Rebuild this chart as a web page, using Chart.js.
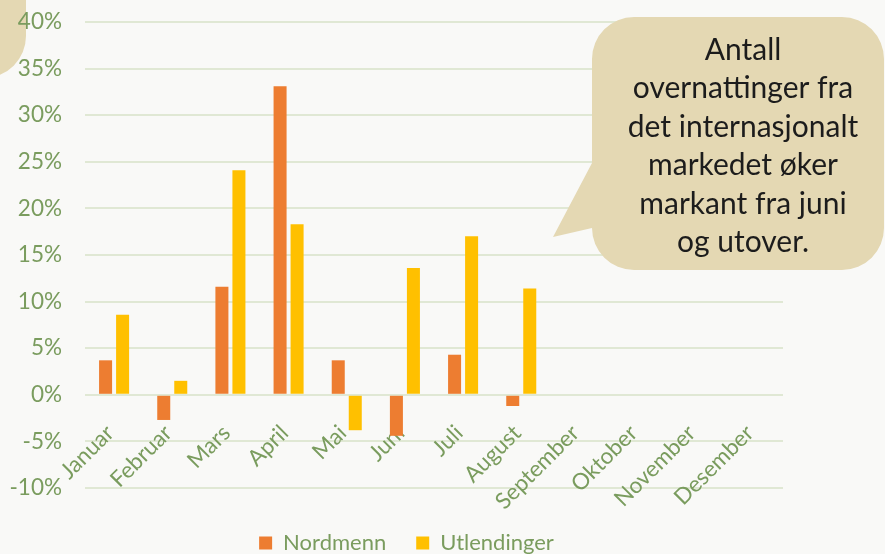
<!DOCTYPE html>
<html>
<head>
<meta charset="utf-8">
<script src="https://cdn.jsdelivr.net/npm/chart.js@4/dist/chart.umd.min.js"></script>
<style>
html, body { margin: 0; padding: 0; background: #f9f9f7; }
#wrap { width: 885px; height: 554px; }
</style>
</head>
<body>
<div id="wrap"><canvas id="chart" width="885" height="554"></canvas></div>
<script>
// chart data (percent change)
var months = ["Januar", "Februar", "Mars", "April", "Mai", "Juni", "Juli", "August",
	"September", "Oktober", "November", "Desember"];
var nordmenn = [3.7, -2.7, 11.6, 33.1, 3.7, -4.4, 4.3, -1.2, null, null, null, null];
var utlendinger = [8.6, 1.5, 24.1, 18.3, -3.8, 13.6, 17.0, 11.4, null, null, null, null];
var yRange = [-10, 40];
var yStep = 5;
var calloutLines = ["Antall", "overnattinger fra", "det internasjonalt", "markedet øker",
	"markant fra juni", "og utover."];

var green = "#7a9c5e";
var bubbleFill = "#e4d8b3";

Chart.defaults.font.family = "Lato, 'Open Sans', sans-serif";

function roundBox(ctx, x0, y0, x1, y1, r) {
	ctx.moveTo(x0 + r, y0);
	ctx.lineTo(x1 - r, y0); ctx.arcTo(x1, y0, x1, y0 + r, r);
	ctx.lineTo(x1, y1 - r); ctx.arcTo(x1, y1, x1 - r, y1, r);
	ctx.lineTo(x0 + r, y1); ctx.arcTo(x0, y1, x0, y1 - r, r);
	ctx.lineTo(x0, y0 + r); ctx.arcTo(x0, y0, x0 + r, y0, r);
}

// ============================================================
// background + cut-off bubble top left (under the tick labels)
// ============================================================
var bgPlugin = {
	id: "bg",
	beforeDraw: function (chart) {
		var ctx = chart.ctx;
		ctx.save();
		ctx.fillStyle = "#f9f9f7";
		ctx.fillRect(0, 0, chart.width, chart.height);
		ctx.fillStyle = bubbleFill;
		ctx.beginPath();
		roundBox(ctx, -200, -100, 26, 78, 42);
		ctx.fill();
		ctx.restore();
	}
};

// move legend down / right a bit, like the original
var legendShift = {
	id: "legendShift",
	afterLayout: function (chart) {
		var lg = chart.legend;
		if (!lg) return;
		lg.left += 15; lg.right += 15;
		lg.top += 14; lg.bottom += 14;
	}
};

// ============================================================
// speech bubble on the right
// ============================================================
var calloutPlugin = {
	id: "callout",
	afterDraw: function (chart) {
		var ctx = chart.ctx;
		ctx.save();
		ctx.fillStyle = bubbleFill;

		var x0 = 592, y0 = 17, x1 = 884, y1 = 270, r = 42;
		ctx.beginPath();
		ctx.moveTo(x0 + r, y0);
		ctx.lineTo(x1 - r, y0); ctx.arcTo(x1, y0, x1, y0 + r, r);
		ctx.lineTo(x1, y1 - r); ctx.arcTo(x1, y1, x1 - r, y1, r);
		ctx.lineTo(x0 + r, y1); ctx.arcTo(x0, y1, x0, y1 - r, r);
		ctx.lineTo(553, 237);
		ctx.lineTo(x0, 163);
		ctx.lineTo(x0, y0 + r); ctx.arcTo(x0, y0, x0 + r, y0, r);
		ctx.closePath();
		ctx.fill();

		ctx.fillStyle = "#1c1c1c";
		ctx.font = "30px Lato, sans-serif";
		ctx.textAlign = "center";
		ctx.textBaseline = "alphabetic";
		for (var i = 0; i < calloutLines.length; i++) {
			ctx.fillText(calloutLines[i], 743, 60 + i * 38.4);
		}
		ctx.restore();
	}
};

// ============================================================
// chart
// ============================================================
var myBar = new Chart(document.getElementById("chart"), {
	type: "bar",
	data: {
		labels: months,
		datasets: [{
			label: "Nordmenn",
			data: nordmenn,
			backgroundColor: "#ed7d31"
		}, {
			label: "Utlendinger",
			data: utlendinger,
			backgroundColor: "#ffc000"
		}]
	},
	options: {
		responsive: false,
		animation: false,
		categoryPercentage: 0.585,
		barPercentage: 0.765,
		layout: {
			padding: { left: 0, right: 102, top: 22, bottom: 4 }
		},
		plugins: {
			tooltip: { enabled: false },
			legend: {
				position: "bottom",
				labels: {
					boxWidth: 13,
					boxHeight: 13,
					padding: 30,
					color: green,
					font: { size: 22 }
				}
			}
		},
		scales: {
			x: {
				position: { y: 0 },
				grid: { display: false },
				border: { display: false },
				ticks: {
					color: green,
					font: { size: 22.5 },
					maxRotation: 45,
					minRotation: 45,
					autoSkip: false,
					padding: 17,
					labelOffset: -4
				},
				afterFit: function (scale) {
					scale.height = 0;
					scale.paddingTop = 0; scale.paddingBottom = 0;
					scale.paddingLeft = 0; scale.paddingRight = 0;
				}
			},
			y: {
				min: yRange[0],
				max: yRange[1],
				grid: { color: "#e0e8d4", lineWidth: 2, drawTicks: false },
				border: { display: false },
				ticks: {
					stepSize: yStep,
					color: green,
					font: { size: 22.5 },
					padding: 23,
					callback: function (v) { return v + "%"; }
				},
				afterFit: function (scale) {
					scale.width = 85;
					scale.paddingTop = 0; scale.paddingBottom = 0;
				}
			}
		}
	},
	plugins: [bgPlugin, legendShift, calloutPlugin]
});
</script>
</body>
</html>
